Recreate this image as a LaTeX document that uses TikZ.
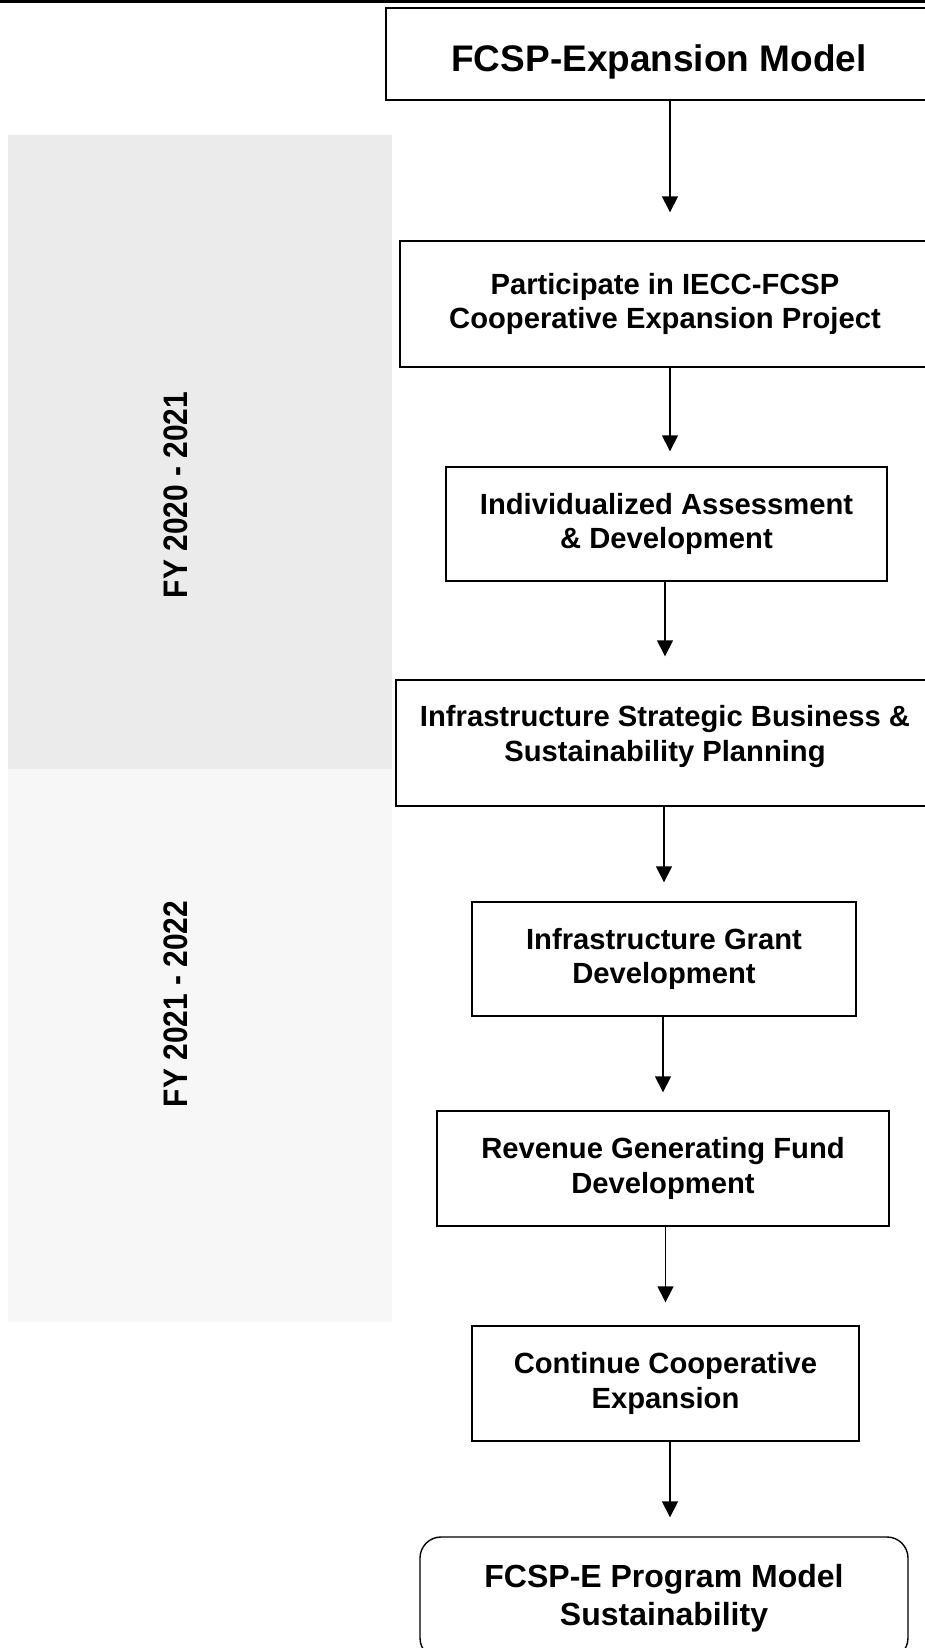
\documentclass[tikz,border=0pt]{standalone}
\usepackage{fontspec}
\setmainfont{Liberation Sans}
\newfontfamily\narrowfont[FakeStretch=0.88]{Liberation Sans}
\usepackage{tikz}
\usetikzlibrary{
    calc,
    arrows.meta
}
\definecolor{bandtop}{HTML}{EBEBEB}
\definecolor{bandlow}{HTML}{F7F7F7}
\tikzset{
    stagebox/.style={%
        draw, line width=0.7pt, inner sep=0pt, align=center,
        font=\bfseries\fontsize{14.6}{17.4}\selectfont
    },
    flowarrow/.style={-{Triangle[length=8pt,width=8pt]}, line width=0.75pt},
    yearlabel/.style={rotate=90, font=\narrowfont\bfseries\fontsize{17}{20}\selectfont}
}

\begin{document}
\begin{tikzpicture}[x=0.5pt,y=-0.5pt]
        \useasboundingbox (0,0) rectangle (925,1648);
        \clip (0,0) rectangle (925,1648);

        % fiscal year bands
        \fill[bandtop] (8,135) rectangle (392,769);
        \fill[bandlow] (8,769) rectangle (392,1322);
        \draw (176,495)  node[yearlabel](fyone){FY 2020 - 2021};
        \draw (176,1004) node[yearlabel](fytwo){FY 2021 - 2022};
        \fill (0,0) rectangle (925,3);

        \draw (659,54) node[stagebox, minimum width=273pt, minimum height=46pt,
            text height=17.6pt, text depth=0pt,
            font=\bfseries\fontsize{18.5}{22}\selectfont](model){FCSP-Expansion Model};
        \draw (665,304) node[stagebox, minimum width=265pt, minimum height=63pt](part)
            {Participate in IECC-FCSP\\Cooperative Expansion Project};
        \draw (666.5,524) node[stagebox, minimum width=220.5pt, minimum height=57pt](assess)
            {Individualized Assessment\\\& Development};
        \draw (665,743) node[stagebox, minimum width=269pt, minimum height=63pt,
            text depth=9.4pt](plan)
            {Infrastructure Strategic Business \&\\Sustainability Planning};
        \draw (664,959) node[stagebox, minimum width=192pt, minimum height=57pt](grant)
            {Infrastructure Grant\\Development};
        \draw (663,1168.5) node[stagebox, minimum width=226pt, minimum height=57.5pt](fund)
            {Revenue Generating Fund\\Development};
        \draw (665.5,1383.5) node[stagebox, minimum width=193.5pt, minimum height=57.5pt](cont)
            {Continue Cooperative\\Expansion};
        \draw (664,1598) node[stagebox, rounded corners=10.5pt, minimum width=244pt,
            minimum height=61pt, font=\bfseries\fontsize{16}{19}\selectfont](sust)
            {FCSP-E Program Model\\Sustainability};

        % arrows
        \coordinate (spine) at (670,0);
        \draw[flowarrow, shorten >=14pt]  (model.south -| spine) -- (part.north -| spine);
        \draw[flowarrow, shorten >=7.5pt] (part.south -| spine) -- (assess.north -| spine);
        \draw[flowarrow, shorten >=11.5pt] (assess.south -| plan.north) -- (plan.north);
        \draw[flowarrow, shorten >=9.5pt] (plan.south -| grant.north) -- (grant.north);
        \draw[flowarrow, shorten >=9pt]   (grant.south -| fund.north) -- (fund.north);
        \draw[flowarrow, shorten >=11.5pt] (fund.south -| cont.north) -- (cont.north);
        \draw[flowarrow, shorten >=9.5pt] (cont.south -| spine) -- (sust.north -| spine);
    \end{tikzpicture}
\end{document}
